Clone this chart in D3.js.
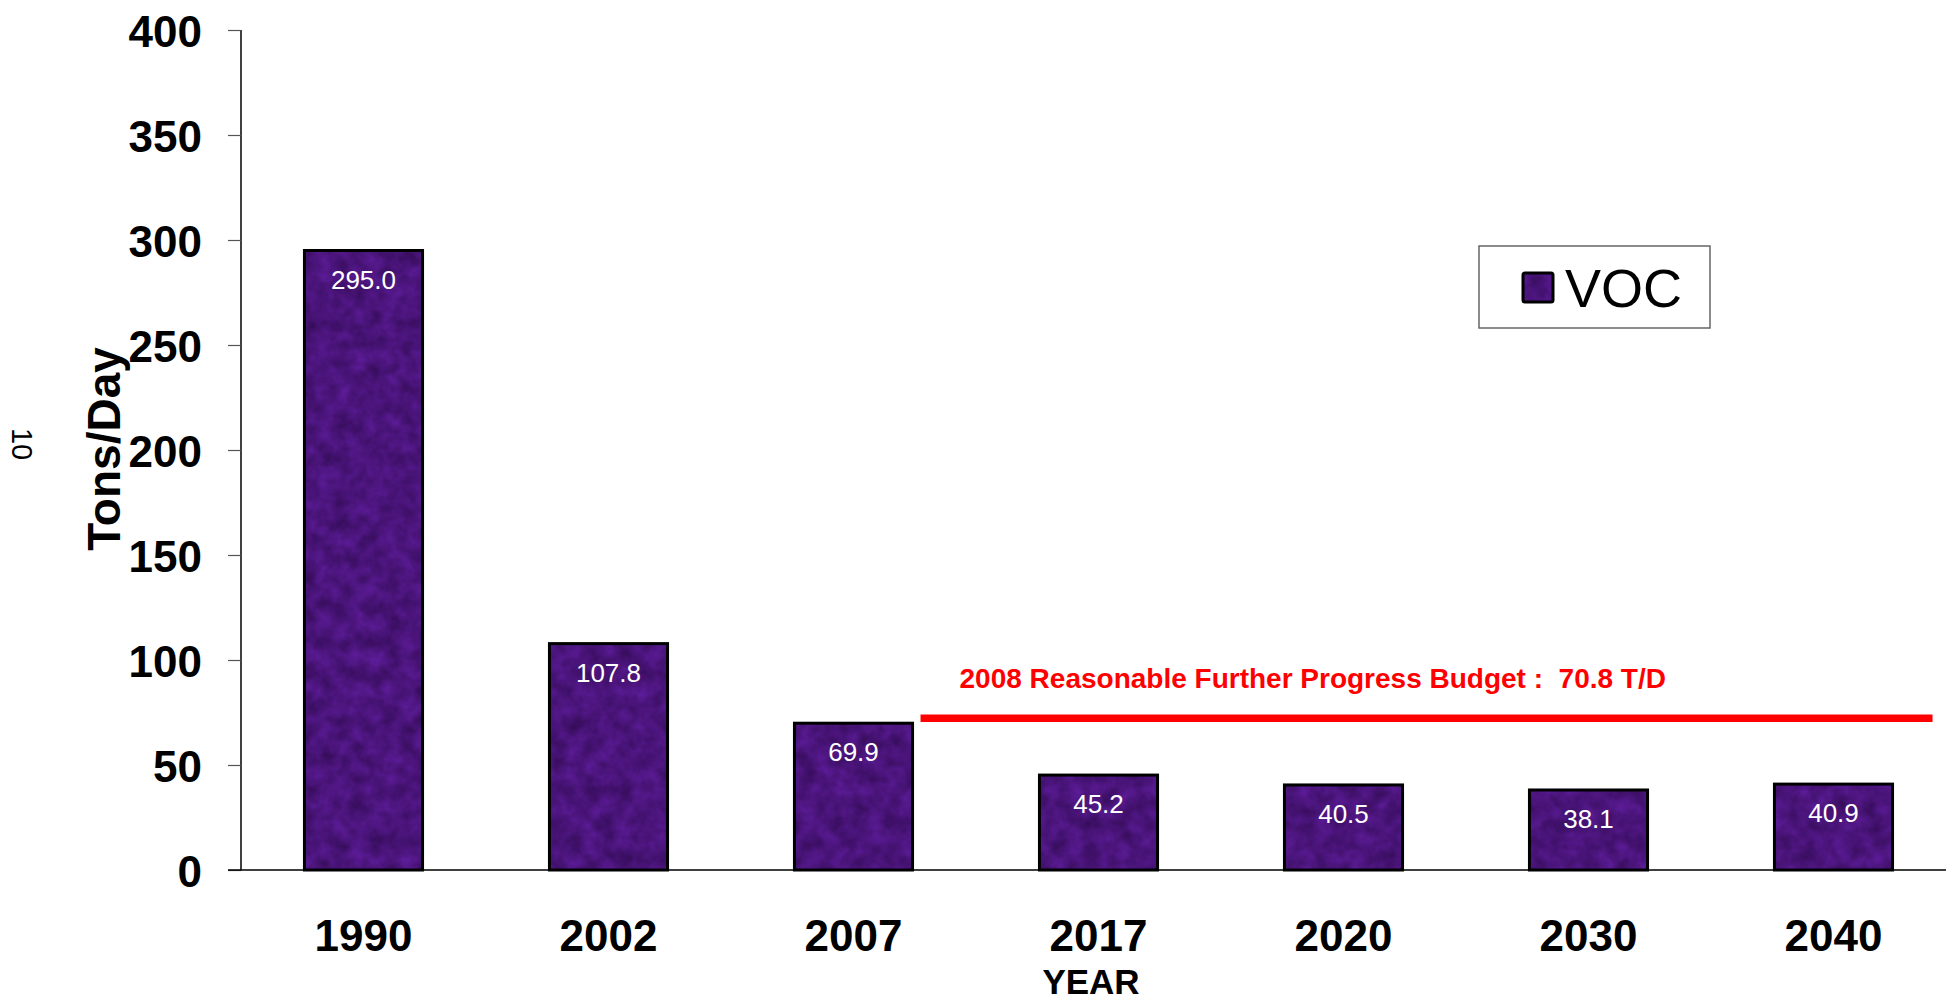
<!DOCTYPE html>
<html>
<head>
<meta charset="utf-8">
<script src="https://cdn.jsdelivr.net/npm/d3@7/dist/d3.min.js"></script>
<style>
  body { margin: 0; background: #fff; }
  text { font-family: "Liberation Sans", Arial, sans-serif; }
</style>
</head>
<body>
<div id="chart"></div>
<script>
// data
var years = ["1990", "2002", "2007", "2017", "2020", "2030", "2040"];
var vocValues = [295.0, 107.8, 69.9, 45.2, 40.5, 38.1, 40.9];
var yTicks = [0, 50, 100, 150, 200, 250, 300, 350, 400];
var budgetValue = [70.8];
var budgetLabel = "2008 Reasonable Further Progress Budget :  70.8 T/D";
var seriesName = "VOC";

var width = 1946;
var height = 1000;
var margin = { left: 241, top: 30, bottom: 130 };
var plotBottom = height - margin.bottom; // 870

var svg = d3.select("#chart").append("svg")
  .attr("width", width)
  .attr("height", height);

// purple mottled texture for the bars
var defs = svg.append("defs");
var filt = defs.append("filter")
  .attr("id", "tex")
  .attr("x", 0).attr("y", 0).attr("width", 1).attr("height", 1)
  .attr("color-interpolation-filters", "sRGB");
filt.append("feTurbulence")
  .attr("type", "fractalNoise")
  .attr("baseFrequency", "0.06")
  .attr("numOctaves", 3)
  .attr("seed", 7)
  .attr("result", "noise");
filt.append("feColorMatrix")
  .attr("in", "noise")
  .attr("type", "matrix")
  .attr("values", "0.2 0 0 0 0.19  0.08 0 0 0 0.04  0.32 0 0 0 0.32  0 0 0 0 1")
  .attr("result", "col");
filt.append("feComposite")
  .attr("in", "col")
  .attr("in2", "SourceGraphic")
  .attr("operator", "in");

var x = d3.scaleBand()
  .domain(years)
  .range([margin.left, 1956])
  .paddingInner(0.518)
  .paddingOuter(0.259);

var y = d3.scaleLinear()
  .domain([0, 400])
  .range([plotBottom, margin.top]);

// y axis
var yAxis = svg.append("g")
  .attr("transform", "translate(" + margin.left + ",0)")
  .call(d3.axisLeft(y).tickValues(yTicks).tickSize(13).tickPadding(26));
yAxis.select(".domain").attr("stroke", "#000").attr("stroke-width", 1.5)
  .attr("d", "M0," + y(400) + "V" + y(0));
yAxis.selectAll(".tick line").attr("stroke", "#555").attr("stroke-width", 1.2);
yAxis.selectAll(".tick text")
  .attr("fill", "#000")
  .attr("dy", "0.38em")
  .style("font-size", "44px")
  .style("font-weight", "bold")
  .style("font-family", "'Liberation Sans', Arial, sans-serif");

// bars
var bars = svg.append("g");
bars.selectAll("rect.fill")
  .data(vocValues)
  .join("rect")
  .attr("class", "fill")
  .attr("x", function(d, i) { return x(years[i]); })
  .attr("y", function(d) { return y(d); })
  .attr("width", x.bandwidth())
  .attr("height", function(d) { return y(0) - y(d); })
  .attr("fill", "#4a1878")
  .attr("filter", "url(#tex)");
bars.selectAll("rect.edge")
  .data(vocValues)
  .join("rect")
  .attr("class", "edge")
  .attr("x", function(d, i) { return x(years[i]); })
  .attr("y", function(d) { return y(d); })
  .attr("width", x.bandwidth())
  .attr("height", function(d) { return y(0) - y(d); })
  .attr("fill", "none")
  .attr("stroke", "#000")
  .attr("stroke-width", 3);

bars.selectAll("text")
  .data(vocValues)
  .join("text")
  .attr("x", function(d, i) { return x(years[i]) + x.bandwidth() / 2; })
  .attr("y", function(d) { return y(d) + 38; })
  .attr("text-anchor", "middle")
  .attr("fill", "#fff")
  .style("font-size", "26px")
  .text(function(d) { return d.toFixed(1); });

// x axis baseline + labels
var xAxis = svg.append("g")
  .attr("transform", "translate(0," + plotBottom + ")")
  .call(d3.axisBottom(x).tickSize(0));
xAxis.select(".domain").attr("stroke", "#000").attr("stroke-width", 1.5)
  .attr("d", "M" + (margin.left - 13) + ",0H" + width);
xAxis.selectAll(".tick text")
  .attr("y", 81)
  .attr("dy", 0)
  .attr("fill", "#000")
  .style("font-size", "44px")
  .style("font-weight", "bold")
  .style("font-family", "'Liberation Sans', Arial, sans-serif");

svg.append("text")
  .attr("x", 1091)
  .attr("y", 994)
  .attr("text-anchor", "middle")
  .style("font-size", "35px")
  .style("font-weight", "bold")
  .text("YEAR");

// y title
svg.append("text")
  .attr("transform", "translate(120,449) rotate(-90)")
  .attr("text-anchor", "middle")
  .style("font-size", "46px")
  .style("font-weight", "bold")
  .text("Tons/Day");

svg.append("text")
  .attr("transform", "translate(12,444) rotate(90)")
  .attr("text-anchor", "middle")
  .style("font-size", "29px")
  .text("10");

// budget line
var lineStart = x("2007") + x.bandwidth() + 8;
var lineEnd = x("2040") + x.bandwidth() + 40;
svg.selectAll("line.budget")
  .data(budgetValue)
  .join("line")
  .attr("class", "budget")
  .attr("x1", lineStart)
  .attr("x2", lineEnd)
  .attr("y1", function(d) { return y(d) - 3; })
  .attr("y2", function(d) { return y(d) - 3; })
  .attr("stroke", "#ff0000")
  .attr("stroke-width", 7.5);

svg.append("text")
  .attr("x", lineStart + 39)
  .attr("y", y(budgetValue[0]) - 33)
  .attr("fill", "#ff0000")
  .attr("xml:space", "preserve")
  .style("white-space", "pre")
  .style("font-size", "28px")
  .style("font-weight", "bold")
  .text(budgetLabel);

// legend
var legend = svg.append("g").attr("transform", "translate(1479,246)");
legend.append("rect")
  .attr("width", 231).attr("height", 82)
  .attr("fill", "#fff")
  .attr("stroke", "#666")
  .attr("stroke-width", 1.5);
legend.append("rect")
  .attr("x", 44).attr("y", 27)
  .attr("width", 30).attr("height", 29)
  .attr("fill", "#4a1878")
  .attr("filter", "url(#tex)");
legend.append("rect")
  .attr("x", 44).attr("y", 27)
  .attr("width", 30).attr("height", 29)
  .attr("rx", 2)
  .attr("fill", "none")
  .attr("stroke", "#000")
  .attr("stroke-width", 3);
legend.append("text")
  .attr("x", 86)
  .attr("y", 61)
  .style("font-size", "54px")
  .text(seriesName);
</script>
</body>
</html>
